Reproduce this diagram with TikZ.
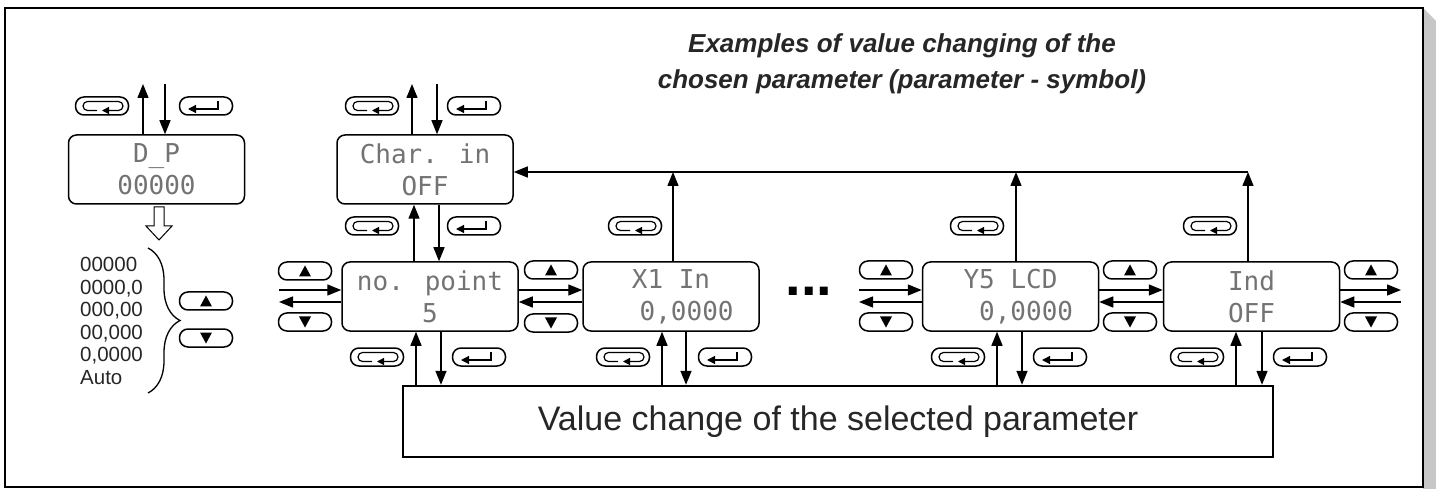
\documentclass[tikz,border=0pt]{standalone}
\usepackage{fontspec}
\setmainfont{Liberation Sans}
\newfontfamily\lcdfont{DejaVu Sans Mono}
\usetikzlibrary{arrows.meta, decorations.pathreplacing}

\tikzset{
  lcd/.style={draw, line width=1.5pt, rounded corners=8pt, minimum width=176pt, minimum height=69pt,
    inner sep=0pt, align=center, text=black!55, font=\lcdfont\fontsize{26}{32}\selectfont},
  key/.style={draw, line width=1.5pt, rounded corners=8.5pt, minimum width=53pt, minimum height=18pt, inner sep=0pt},
  keyesc/.style={key, path picture={
    \draw[line width=1.2pt, rounded corners=4.5pt, -{Triangle[length=7pt,width=7pt]}]
      ([shift={(-5pt,-4.5pt)}]path picture bounding box.center) -- ++(-14pt,0pt) -- ++(0pt,9pt)
      -- ++(40pt,0pt) -- ++(0pt,-9pt) -- ++(-21pt,0pt);}},
  keyenter/.style={key, path picture={
    \draw[sharp corners, line width=1.2pt, -{Triangle[length=8pt,width=8pt]}]
      ([shift={(12pt,5pt)}]path picture bounding box.center) -- ++(0pt,-8pt) -- ++(-30pt,0pt);}},
  keyup/.style={key, path picture={
    \fill[sharp corners] ([shift={(0pt,5.5pt)}]path picture bounding box.center) -- ++(-6pt,-11pt) -- ++(12pt,0pt) -- cycle;}},
  keydown/.style={key, path picture={
    \fill[sharp corners] ([shift={(0pt,-5.5pt)}]path picture bounding box.center) -- ++(-6pt,11pt) -- ++(12pt,0pt) -- cycle;}},
  arr/.style={line width=1.4pt, -{Triangle[length=14pt,width=11pt]}},
  title/.style={align=center, inner sep=0pt, text=black!85, font=\bfseries\itshape\fontsize{26}{36}\selectfont},
}

\begin{document}
\begin{tikzpicture}[x=1pt, y=-1pt]
\useasboundingbox (0,0) rectangle (1436,489);
% frame with page shadow
\fill[black!22] (1423,8) -- (1436,21) -- (1436,489) -- (1423,489) -- cycle;
\draw[line width=1.5pt] (5,8) rectangle (1423,487);

\node[title, anchor=north] (title) at (902,33) {Examples of value changing of the\\chosen parameter (parameter - symbol)};

% displays
\node[lcd] (dp) at (156.5,169.5) {D\_P\\00000};
\node[lcd] (charin) at (425,169.5) {Char. in\\OFF};
\node[lcd] (nopoint) at (430,296.5) {no. point\\5};
\node[lcd] (xonein) at (671,296.5) {X1 In\\\hspace*{1.2em}0,0000};
\node[lcd] (yfivelcd) at (1010.5,296.5) {Y5 LCD\\\hspace*{1.2em}0,0000};
\node[lcd] (ind) at (1251.5,296.5) {Ind\\OFF};
\node[draw, line width=2.4pt, minimum width=870pt, minimum height=71pt, text=black!85,
  font=\fontsize{34}{40}\selectfont] (change) at (838,421.5) {Value change of the selected parameter};
\node[font=\fontsize{56}{56}\selectfont\bfseries] (dots) at (809,291) {...};

% keys
\foreach \nm/\x/\y in {dpesc/102/106, ciesca/372/106, cieschb/372/226, npesc/377/357, xesca/635/226,
  xescb/623/357, yesca/977/226, yescb/958/357, indesca/1210/226, indescb/1197/357}
  \node[keyesc] (\nm) at (\x,\y) {};
\foreach \nm/\x/\y in {dpenter/206/106, cientera/474/106, cienterb/474/226, npenter/479/357,
  xenter/725/357, yenter/1060/357, indenter/1300/357}
  \node[keyenter] (\nm) at (\x,\y) {};
\foreach \nm/\x/\y in {dpup/206/301, npup/305/271, xup/551/270, yup/886/270, indup/1130/270, rup/1371/270}
  \node[keyup] (\nm) at (\x,\y) {};
\foreach \nm/\x/\y in {dpdown/206/338, npdown/305/322, xdown/551/323, ydown/886/322, inddown/1130/322, rdown/1371/322}
  \node[keydown] (\nm) at (\x,\y) {};

% decimal point list
\draw[line width=1pt, fill=white] (154,207) -- (164,207) -- (164,226) -- (172,226) -- (159,240)
  -- (146,226) -- (154,226) -- cycle;
\node[anchor=north west, inner sep=0pt, align=left, text=black!85, font=\fontsize{20.5}{22.5}\selectfont]
  (dpvalues) at (80,257) {00000\\0000,0\\000,00\\00,000\\0,0000\\Auto};
\draw[line width=1.3pt, decorate, decoration={brace, amplitude=32pt}] (148,248) -- (148,393);

% vertical connectors at the top
\coordinate (dpout) at (143,84);
\coordinate (dpin) at (165,84);
\coordinate (ciout) at (412,84);
\coordinate (ciin) at (437,84);
\draw[arr] (dp.north -| dpout) -- (dpout);
\draw[arr] (dpin) -- (dp.north -| dpin);
\draw[arr] (charin.north -| ciout) -- (ciout);
\draw[arr] (ciin) -- (charin.north -| ciin);
\draw[arr] ([xshift=-16pt]nopoint.north) -- ([xshift=-16pt]nopoint.north |- charin.south);
\draw[arr] ([xshift=9pt]nopoint.north |- charin.south) -- ([xshift=9pt]nopoint.north);

% to and from the value change
\foreach \n/\u/\d in {nopoint/-14/11, xonein/-9/15, yfivelcd/-13.5/11.5, ind/-15.5/10.5} {
  \draw[arr] ([xshift=\u pt]\n.south |- change.north) -- ([xshift=\u pt]\n.south);
  \draw[arr] ([xshift=\d pt]\n.south) -- ([xshift=\d pt]\n.south |- change.north);
}

% back to Char. in
\coordinate (fb) at (1248,172);
\draw[arr] (fb) -- (fb -| charin.east);
\foreach \n/\s in {xonein/2, yfivelcd/5.5, ind/-3.5}
  \draw[arr] ([xshift=\s pt]\n.north) -- ([xshift=\s pt]\n.north |- fb);

% horizontal connectors
\coordinate (npl) at (279,296.5);
\coordinate (yl) at (859,296.5);
\coordinate (ir) at (1401,296.5);
\draw[arr] ([yshift=6.5pt]nopoint.west -| npl) -- ([yshift=6.5pt]nopoint.west);
\draw[arr] ([yshift=-5.5pt]nopoint.west) -- ([yshift=-5.5pt]nopoint.west -| npl);
\draw[arr] ([yshift=6.5pt]yfivelcd.west -| yl) -- ([yshift=6.5pt]yfivelcd.west);
\draw[arr] ([yshift=-5.5pt]yfivelcd.west) -- ([yshift=-5.5pt]yfivelcd.west -| yl);
\foreach \a/\b in {nopoint/xonein, yfivelcd/ind} {
  \draw[arr] ([yshift=6.5pt]\a.east) -- ([yshift=6.5pt]\b.west);
  \draw[arr] ([yshift=-5.5pt]\b.west) -- ([yshift=-5.5pt]\a.east);
}
\draw[arr] ([yshift=6.5pt]ind.east) -- ([yshift=6.5pt]ind.east -| ir);
\draw[arr] ([yshift=-5.5pt]ind.east -| ir) -- ([yshift=-5.5pt]ind.east);
\end{tikzpicture}
\end{document}
